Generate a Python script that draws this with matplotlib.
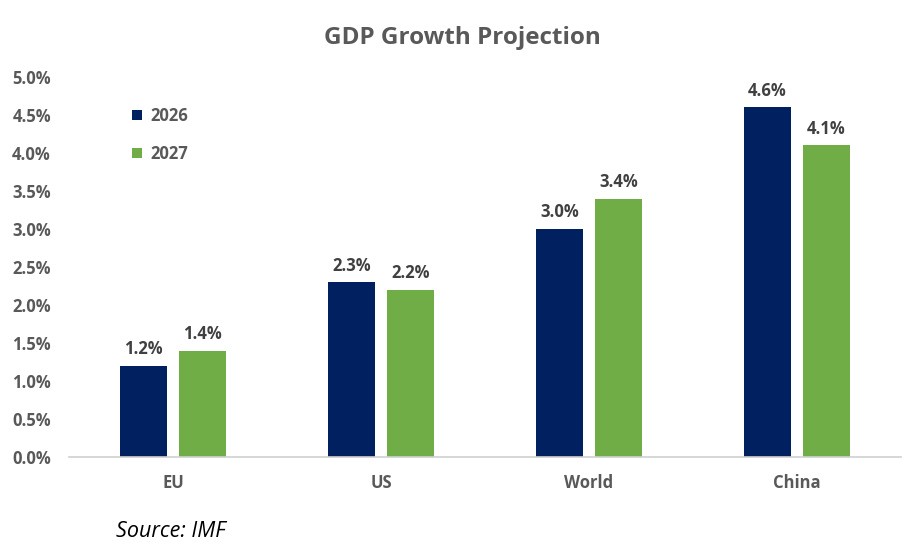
import matplotlib
matplotlib.use('Agg')
import matplotlib.pyplot as plt
from matplotlib.ticker import FuncFormatter
import numpy as np

regions = ['EU', 'US', 'World', 'China']
gdp_2026 = [1.2, 2.3, 3.0, 4.6]
gdp_2027 = [1.4, 2.2, 3.4, 4.1]
years = ['2026', '2027']

navy = '#002060'
green = '#70AD47'
grey = '#595959'

plt.rcParams['font.family'] = ['Open Sans', 'DejaVu Sans']

fig = plt.figure(figsize=(9.24, 5.53), dpi=100)
ax = fig.add_axes([0.0747, 0.1736, 0.9003, 0.6874])

x = np.arange(len(regions))
w = 0.226
off = 0.142
b1 = ax.bar(x - off, gdp_2026, w, color=navy, label=years[0])
b2 = ax.bar(x + off, gdp_2027, w, color=green, label=years[1])

for bars, vals in ((b1, gdp_2026), (b2, gdp_2027)):
    for b, v in zip(bars, vals):
        ax.text(b.get_x() + b.get_width() / 2, v + 0.1, f'{v:.1f}%',
                ha='center', va='bottom', fontsize=12, fontweight='bold', color='#404040')

ax.set_xlim(-0.5, len(regions) - 0.5)
ax.set_ylim(0, 5.0)
ax.set_yticks(np.arange(0, 5.01, 0.5))
ax.yaxis.set_major_formatter(FuncFormatter(lambda v, p: f'{v:.1f}%'))
ax.set_xticks(x)
ax.set_xticklabels(regions)
for lab in ax.get_xticklabels() + ax.get_yticklabels():
    lab.set_fontweight('bold')
    lab.set_color(grey)
    lab.set_fontsize(12)
ax.tick_params(axis='both', length=0)
ax.tick_params(axis='x', pad=12)
ax.tick_params(axis='y', pad=13)

for s in ('top', 'right', 'left'):
    ax.spines[s].set_visible(False)
ax.spines['bottom'].set_color('#D0D0D0')
ax.spines['bottom'].set_linewidth(1.2)

leg = ax.legend(loc='upper left', bbox_to_anchor=(0.058, 0.96), frameon=False,
                handlelength=0.6, handleheight=0.6, handletextpad=0.5,
                labelspacing=1.2, prop={'weight': 'bold', 'size': 12})
for t in leg.get_texts():
    t.set_color(grey)

fig.text(0.5, 0.932, 'GDP Growth Projection', ha='center', va='center',
         fontsize=17.5, fontweight='bold', color=grey)
fig.text(0.126, 0.038, 'Source: IMF', ha='left', va='center',
         fontsize=15.5, fontstyle='italic', color='black')

fig.savefig('out.png', dpi=100)
